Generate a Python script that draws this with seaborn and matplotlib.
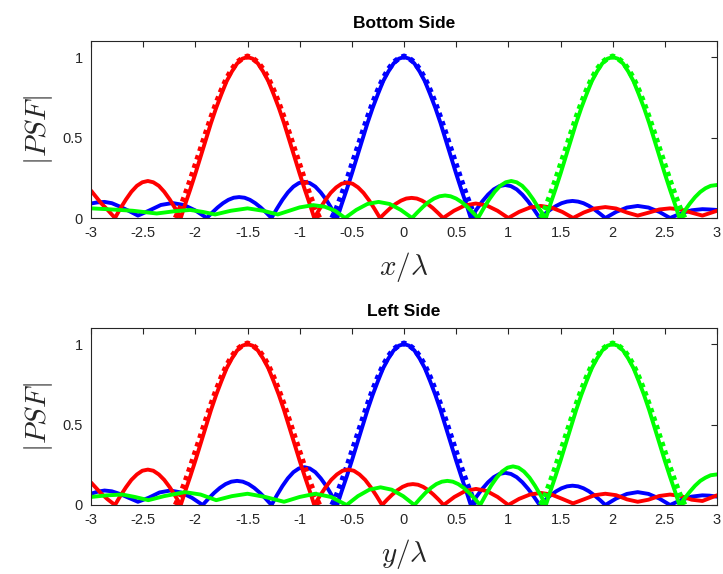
import numpy as np
import pandas as pd
import matplotlib
matplotlib.use("Agg")
import matplotlib.pyplot as plt
import seaborn as sns

sns.set_theme(style="white")
plt.rcParams['font.family'] = ['Liberation Sans', 'DejaVu Sans']
plt.rcParams['mathtext.fontset'] = 'cm'
plt.rcParams['axes.unicode_minus'] = False

# ---------------- data ----------------
# main-lobe profile: offsets from the lobe centre and |PSF| values
lobe_off = [-0.64, -0.6, -0.55, -0.5, -0.45, -0.4, -0.35, -0.3, -0.25, -0.2, -0.15, -0.1, -0.05, 0.0,
            0.05, 0.1, 0.15, 0.2, 0.25, 0.3, 0.35, 0.4, 0.45, 0.5, 0.55, 0.6, 0.64]
lobe_val = [0.0, 0.08, 0.175, 0.275, 0.38, 0.485, 0.59, 0.685, 0.77, 0.85, 0.91, 0.96, 0.99, 1.0,
            0.99, 0.96, 0.91, 0.85, 0.77, 0.685, 0.59, 0.485, 0.38, 0.275, 0.175, 0.08, 0.0]
# reference (dotted) main lobe, slightly wider
ref_off = [-0.69, -0.65, -0.6, -0.55, -0.5, -0.45, -0.4, -0.35, -0.3, -0.25, -0.2, -0.15, -0.1, -0.05, 0.0,
           0.05, 0.1, 0.15, 0.2, 0.25, 0.3, 0.35, 0.4, 0.45, 0.5, 0.55, 0.6, 0.65, 0.69]
ref_val = [0.0, 0.055, 0.14, 0.232, 0.33, 0.428, 0.527, 0.624, 0.714, 0.795, 0.867, 0.924, 0.967, 0.992, 1.005,
           0.992, 0.967, 0.924, 0.867, 0.795, 0.714, 0.624, 0.527, 0.428, 0.33, 0.232, 0.14, 0.055, 0.0]

centers = {"red": -1.5, "blue": 0.0, "green": 2.0}

# ---- Bottom side: side-lobe knots (x, |PSF|) left and right of each main lobe ----
bot_red_left_x = [-3.0, -2.95, -2.9, -2.84, -2.77, -2.718, -2.665, -2.613, -2.56, -2.508, -2.455, -2.403,
                  -2.35, -2.298, -2.245, -2.193]
bot_red_left_y = [0.17, 0.13, 0.09, 0.05, 0.0, 0.06, 0.115, 0.163, 0.2, 0.222, 0.23, 0.222,
                  0.2, 0.163, 0.115, 0.06]
bot_red_right_x = [-0.808, -0.755, -0.703, -0.65, -0.598, -0.545, -0.493, -0.44, -0.388, -0.335, -0.283, -0.23,
                   -0.18, -0.129, -0.079, -0.028, 0.022, 0.073, 0.123, 0.173, 0.224, 0.274, 0.325, 0.375,
                   0.479, 0.583, 0.688, 0.792, 0.896, 1.0,
                   1.103, 1.207, 1.31, 1.413, 1.517, 1.62,
                   1.723, 1.827, 1.93, 2.033, 2.137, 2.24,
                   2.343, 2.447, 2.55, 2.653, 2.757, 2.86, 3.0]
bot_red_right_y = [0.057, 0.11, 0.156, 0.19, 0.213, 0.22, 0.213, 0.19, 0.156, 0.11, 0.057, 0.0,
                   0.032, 0.063, 0.088, 0.108, 0.121, 0.125, 0.121, 0.108, 0.088, 0.063, 0.032, 0.0,
                   0.045, 0.078, 0.09, 0.078, 0.045, 0.0,
                   0.038, 0.065, 0.075, 0.065, 0.038, 0.0,
                   0.034, 0.059, 0.068, 0.059, 0.034, 0.015,
                   0.033, 0.053, 0.06, 0.053, 0.033, 0.015, 0.045]

bot_blue_left_x = [-3.0, -2.94, -2.87, -2.8, -2.72, -2.64, -2.55,
                   -2.44, -2.33, -2.22, -2.11, -2.0, -1.89,
                   -1.838, -1.787, -1.735, -1.683, -1.632, -1.58, -1.528, -1.477, -1.425, -1.373, -1.322, -1.27,
                   -1.218, -1.165, -1.113, -1.06, -1.008, -0.955, -0.903, -0.85, -0.798, -0.745, -0.693]
bot_blue_left_y = [0.09, 0.097, 0.1, 0.092, 0.07, 0.045, 0.015,
                   0.047, 0.081, 0.093, 0.081, 0.047, 0.0,
                   0.034, 0.065, 0.092, 0.113, 0.126, 0.13, 0.126, 0.113, 0.092, 0.065, 0.034, 0.0,
                   0.058, 0.113, 0.159, 0.195, 0.217, 0.225, 0.217, 0.195, 0.159, 0.113, 0.058]
bot_blue_right_x = [0.695, 0.75, 0.805, 0.86, 0.915, 0.97, 1.025, 1.08, 1.135, 1.19, 1.245, 1.3,
                    1.353, 1.405, 1.458, 1.51, 1.563, 1.615, 1.668, 1.72, 1.773, 1.825, 1.878, 1.93,
                    2.033, 2.137, 2.24, 2.343, 2.447, 2.55,
                    2.653, 2.757, 2.86, 2.93, 3.0]
bot_blue_right_y = [0.053, 0.103, 0.145, 0.178, 0.198, 0.205, 0.198, 0.178, 0.145, 0.103, 0.053, 0.0,
                    0.027, 0.053, 0.075, 0.092, 0.102, 0.106, 0.102, 0.092, 0.075, 0.053, 0.027, 0.0,
                    0.038, 0.065, 0.075, 0.065, 0.038, 0.0,
                    0.028, 0.048, 0.055, 0.053, 0.05]

bot_green_left_x = [-3.0, -2.85, -2.6, -2.37, -2.2, -2.05, -1.93, -1.81, -1.66, -1.5, -1.35, -1.21,
                    -1.1, -1.0, -0.87, -0.76, -0.66, -0.565,
                    -0.458, -0.351, -0.244, -0.137, -0.03, 0.077,
                    0.13, 0.183, 0.235, 0.288, 0.341, 0.394, 0.446, 0.499, 0.552, 0.605, 0.657, 0.71,
                    0.763, 0.816, 0.869, 0.922, 0.975, 1.028, 1.08, 1.133, 1.186, 1.239, 1.292]
bot_green_left_y = [0.06, 0.055, 0.045, 0.028, 0.042, 0.05, 0.038, 0.022, 0.045, 0.06, 0.045, 0.022,
                    0.045, 0.066, 0.08, 0.07, 0.045, 0.0,
                    0.05, 0.087, 0.1, 0.087, 0.05, 0.0,
                    0.036, 0.07, 0.099, 0.121, 0.135, 0.14, 0.135, 0.121, 0.099, 0.07, 0.036, 0.0,
                    0.06, 0.115, 0.163, 0.2, 0.222, 0.23, 0.222, 0.2, 0.163, 0.115, 0.06]
bot_green_right_x = [2.69, 2.74, 2.79, 2.84, 2.89, 2.94, 3.0]
bot_green_right_y = [0.045, 0.09, 0.13, 0.162, 0.185, 0.2, 0.205]

# ---- Left side ----
left_red_left_x = [-3.0, -2.95, -2.9, -2.84, -2.77, -2.718, -2.665, -2.613, -2.56, -2.508, -2.455, -2.403,
                   -2.35, -2.298, -2.245, -2.193]
left_red_left_y = [0.14, 0.105, 0.07, 0.035, 0.0, 0.057, 0.11, 0.156, 0.19, 0.213, 0.22, 0.213,
                   0.19, 0.156, 0.11, 0.057]
left_red_right_x = [-0.806, -0.752, -0.698, -0.643, -0.589, -0.535, -0.481, -0.427, -0.372, -0.318, -0.264, -0.21,
                    -0.161, -0.112, -0.062, -0.013, 0.036, 0.085, 0.134, 0.183, 0.233, 0.282, 0.331, 0.38,
                    0.483, 0.587, 0.69, 0.793, 0.897, 1.0,
                    1.103, 1.207, 1.31, 1.413, 1.517, 1.62,
                    1.723, 1.827, 1.93, 2.033, 2.137, 2.24,
                    2.343, 2.447, 2.55, 2.653, 2.757, 2.86, 3.0]
left_red_right_y = [0.057, 0.11, 0.156, 0.19, 0.213, 0.22, 0.213, 0.19, 0.156, 0.11, 0.057, 0.0,
                    0.034, 0.065, 0.092, 0.113, 0.126, 0.13, 0.126, 0.113, 0.092, 0.065, 0.034, 0.0,
                    0.05, 0.087, 0.1, 0.087, 0.05, 0.0,
                    0.038, 0.065, 0.075, 0.065, 0.038, 0.01,
                    0.035, 0.061, 0.07, 0.061, 0.035, 0.02,
                    0.033, 0.056, 0.065, 0.056, 0.033, 0.025, 0.06]

left_blue_left_x = [-3.0, -2.94, -2.87, -2.8, -2.72, -2.64, -2.55,
                    -2.447, -2.343, -2.24, -2.137, -2.033, -1.93,
                    -1.875, -1.82, -1.765, -1.71, -1.655, -1.6, -1.545, -1.49, -1.435, -1.38, -1.325, -1.27,
                    -1.218, -1.165, -1.113, -1.06, -1.008, -0.955, -0.903, -0.85, -0.798, -0.745, -0.693]
left_blue_left_y = [0.07, 0.082, 0.09, 0.085, 0.068, 0.045, 0.02,
                    0.045, 0.078, 0.09, 0.078, 0.045, 0.0,
                    0.039, 0.075, 0.106, 0.13, 0.145, 0.15, 0.145, 0.13, 0.106, 0.075, 0.039, 0.0,
                    0.061, 0.118, 0.166, 0.204, 0.227, 0.235, 0.227, 0.204, 0.166, 0.118, 0.061]
left_blue_right_x = [0.695, 0.75, 0.805, 0.86, 0.915, 0.97, 1.025, 1.08, 1.135, 1.19, 1.245, 1.3,
                     1.353, 1.405, 1.458, 1.51, 1.563, 1.615, 1.668, 1.72, 1.773, 1.825, 1.878, 1.93,
                     2.033, 2.137, 2.24, 2.343, 2.447, 2.55,
                     2.653, 2.757, 2.86, 2.93, 3.0]
left_blue_right_y = [0.052, 0.1, 0.141, 0.173, 0.193, 0.2, 0.193, 0.173, 0.141, 0.1, 0.052, 0.0,
                     0.031, 0.06, 0.085, 0.104, 0.116, 0.12, 0.116, 0.104, 0.085, 0.06, 0.031, 0.0,
                     0.04, 0.069, 0.08, 0.069, 0.04, 0.0,
                     0.03, 0.052, 0.06, 0.058, 0.052]

left_green_left_x = [-3.0, -2.85, -2.7, -2.58, -2.45, -2.3, -2.1, -1.95, -1.8, -1.65, -1.5, -1.33, -1.15,
                     -1.0, -0.85, -0.7, -0.55,
                     -0.442, -0.333, -0.225, -0.117, -0.008, 0.1,
                     0.153, 0.205, 0.258, 0.31, 0.363, 0.415, 0.468, 0.52, 0.573, 0.625, 0.678, 0.73,
                     0.783, 0.835, 0.888, 0.94, 0.993, 1.045, 1.098, 1.15, 1.203, 1.255, 1.308]
left_green_left_y = [0.05, 0.06, 0.065, 0.05, 0.03, 0.055, 0.08, 0.065, 0.03, 0.055, 0.07, 0.05, 0.02,
                     0.05, 0.07, 0.05, 0.0,
                     0.055, 0.095, 0.11, 0.095, 0.055, 0.0,
                     0.039, 0.075, 0.106, 0.13, 0.145, 0.15, 0.145, 0.13, 0.106, 0.075, 0.039, 0.0,
                     0.062, 0.12, 0.17, 0.208, 0.232, 0.24, 0.232, 0.208, 0.17, 0.12, 0.062]
left_green_right_x = [2.69, 2.74, 2.79, 2.84, 2.89, 2.94, 3.0]
left_green_right_y = [0.042, 0.083, 0.12, 0.15, 0.17, 0.185, 0.19]

xticks = [-3, -2.5, -2, -1.5, -1, -0.5, 0, 0.5, 1, 1.5, 2, 2.5, 3]
xtick_labels = ["-3", "-2.5", "-2", "-1.5", "-1", "-0.5", "0", "0.5", "1", "1.5", "2", "2.5", "3"]
yticks = [0, 0.5, 1]
ytick_labels = ["0", "0.5", "1"]

panels = [
    ("Bottom Side", r"$x/\lambda$", {
        "red": (bot_red_left_x, bot_red_left_y, bot_red_right_x, bot_red_right_y),
        "blue": (bot_blue_left_x, bot_blue_left_y, bot_blue_right_x, bot_blue_right_y),
        "green": (bot_green_left_x, bot_green_left_y, bot_green_right_x, bot_green_right_y)}),
    ("Left Side", r"$y/\lambda$", {
        "red": (left_red_left_x, left_red_left_y, left_red_right_x, left_red_right_y),
        "blue": (left_blue_left_x, left_blue_left_y, left_blue_right_x, left_blue_right_y),
        "green": (left_green_left_x, left_green_left_y, left_green_right_x, left_green_right_y)}),
]

colors = {"red": (1, 0, 0), "blue": (0, 0, 1), "green": (0, 1, 0)}

fig = plt.figure(figsize=(7.23, 5.74), dpi=100)
ax_rects = [[91/723, 1 - 218/574, 626/723, 177/574],
            [91/723, 1 - 505/574, 626/723, 177/574]]

for rect, (title, xlabel, curves) in zip(ax_rects, panels):
    ax = fig.add_axes(rect)
    for name in ["blue", "red", "green"]:
        lx, ly, rx, ry = curves[name]
        c = centers[name]
        dref = pd.DataFrame({"x": [c + o for o in ref_off], "y": ref_val})
        sns.lineplot(data=dref, x="x", y="y", ax=ax, color=colors[name], lw=4.0,
                     linestyle=(0, (0.8, 0.8)), sort=False, estimator=None)
        xs = list(lx) + [c + o for o in lobe_off] + list(rx)
        ys = list(ly) + list(lobe_val) + list(ry)
        df = pd.DataFrame({"x": xs, "y": ys})
        sns.lineplot(data=df, x="x", y="y", ax=ax, color=colors[name], lw=2.8,
                     sort=False, estimator=None)
    ax.set_xlim(-3, 3)
    ax.set_ylim(0, 1.1)
    ax.set_xticks(xticks)
    ax.set_xticklabels(xtick_labels)
    ax.set_yticks(yticks)
    ax.set_yticklabels(ytick_labels)
    ax.tick_params(direction="in", top=True, right=True, length=4.5, width=0.8,
                   labelsize=10.5, colors="#262626", pad=6)
    for sp in ax.spines.values():
        sp.set_color("#262626")
        sp.set_linewidth(0.8)
        sp.set_visible(True)
    ax.set_title(title, fontsize=12.5, fontweight="bold", pad=9, color="black")
    ax.set_xlabel(xlabel, fontsize=21, labelpad=7, color="#262626")
    ax.set_ylabel(r"$|PSF|$", fontsize=21, labelpad=5, color="#262626")

fig.savefig("out.png", dpi=100)
